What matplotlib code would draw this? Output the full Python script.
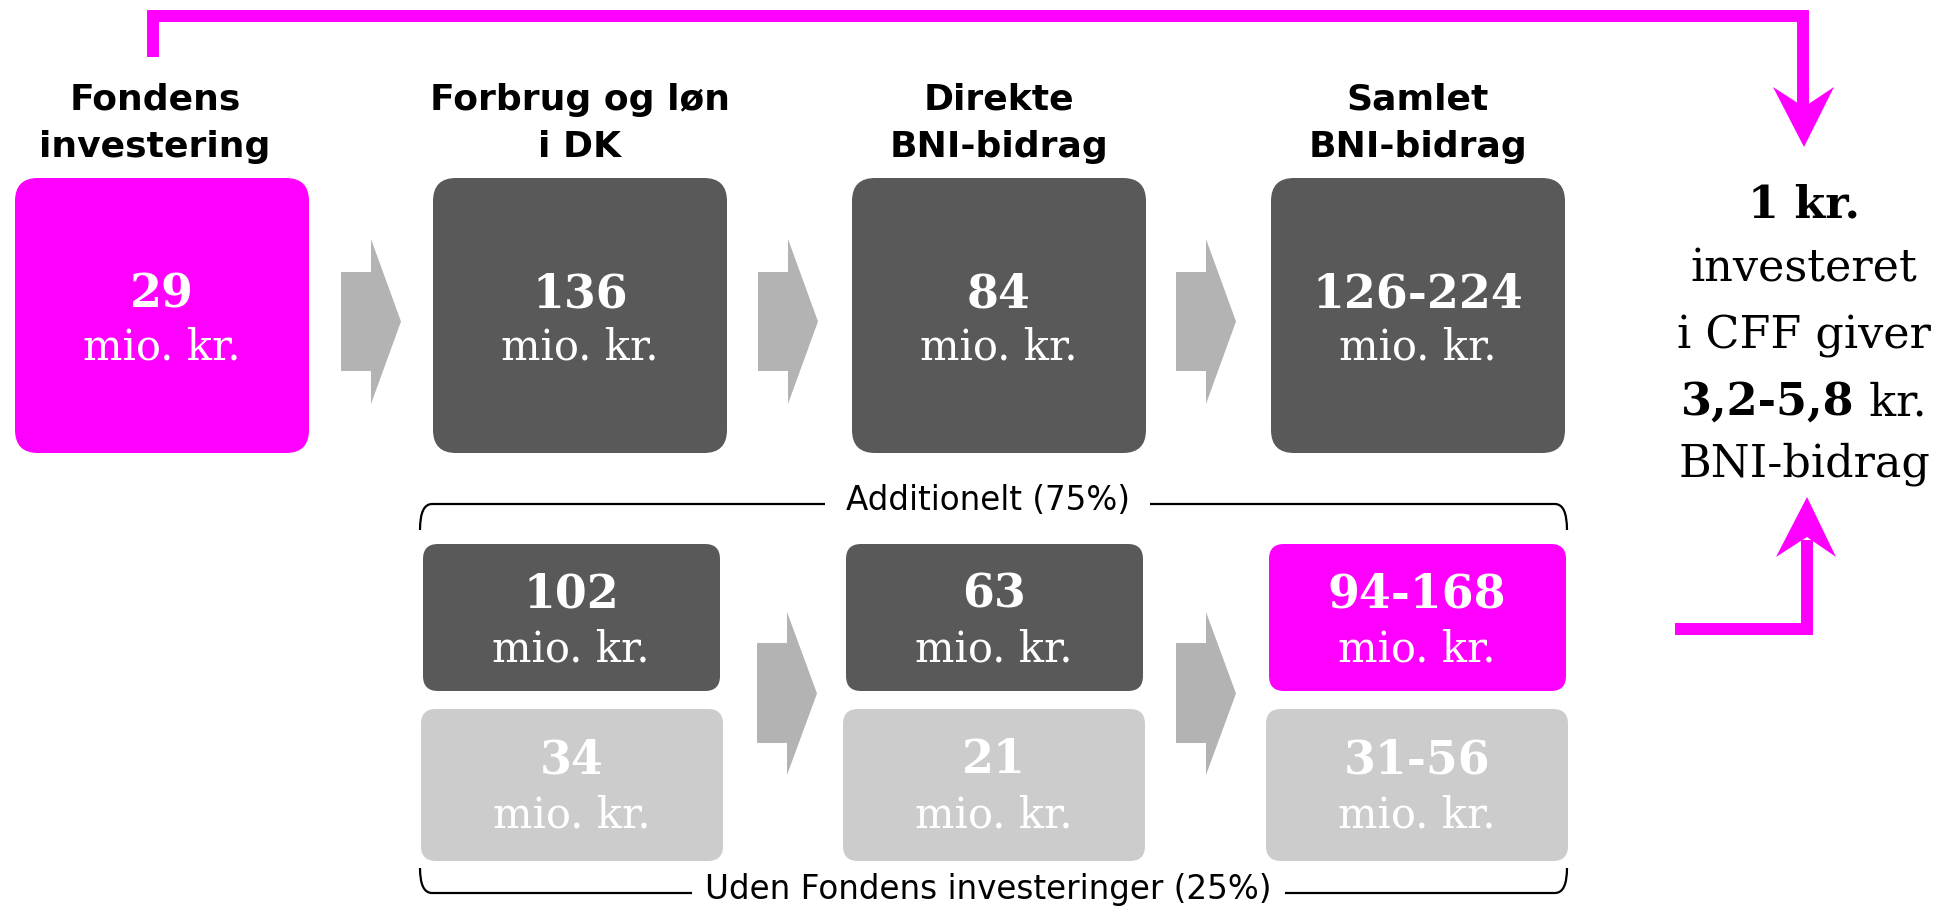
import matplotlib
matplotlib.use("Agg")
import matplotlib.pyplot as plt
from matplotlib.patches import FancyBboxPatch, Polygon, PathPatch
from matplotlib.path import Path

# Data
top_titles = [["Fondens", "investering"], ["Forbrug og løn", "i DK"],
              ["Direkte", "BNI-bidrag"], ["Samlet", "BNI-bidrag"]]
top_values = ["29", "136", "84", "126-224"]
add_values = ["102", "63", "94-168"]
uden_values = ["34", "21", "31-56"]
unit = "mio. kr."
add_label = "Additionelt (75%)"
uden_label = "Uden Fondens investeringer (25%)"
summary_lines = ["investeret", "i CFF giver"]
summary_head = "1 kr."
summary_range = "3,2-5,8"
summary_tail = "BNI-bidrag"

# Colours
PINK = "#ff00ff"
DARK = "#595959"
LIGHT = "#cccccc"
ARROW = "#b3b3b3"

SANS = "DejaVu Sans"
SERIF = "DejaVu Serif"

fig = plt.figure(figsize=(19.54, 9.13), dpi=100)
ax = fig.add_axes([0, 0, 1, 1])
ax.set_xlim(0, 1954)
ax.set_ylim(913, 0)
ax.axis("off")


def box(x, y, w, h, color, r):
    ax.add_patch(FancyBboxPatch((x, y), w, h, boxstyle="round,pad=0,rounding_size=%d" % r,
                                fc=color, ec="none"))


def box_text(xc, ytop, value, num_off, unit_off):
    ax.text(xc, ytop + num_off, value, ha="center", va="baseline", color="white",
            fontsize=33, fontweight="bold", family=SERIF)
    ax.text(xc, ytop + unit_off, unit, ha="center", va="baseline", color="white",
            fontsize=30, family=SERIF)


def block_arrow(x0, shaft_top, shaft_bot, head_top, head_bot, color=ARROW):
    # shaft 30 px, head 30 px long
    xm, xt = x0 + 30, x0 + 60
    ym = (head_top + head_bot) / 2
    pts = [(x0, shaft_top), (xm, shaft_top), (xm, head_top), (xt, ym),
           (xm, head_bot), (xm, shaft_bot), (x0, shaft_bot)]
    ax.add_patch(Polygon(pts, closed=True, fc=color, ec="none"))


def bracket(y, yend, gap_l, gap_r, x_l=420, x_r=1567):
    r = 12
    verts = [(x_l, yend), (x_l, y), (x_l + r, y), (gap_l, y),
             (gap_r, y), (x_r - r, y), (x_r, y), (x_r, yend)]
    codes = [Path.MOVETO, Path.CURVE3, Path.CURVE3, Path.LINETO,
             Path.MOVETO, Path.LINETO, Path.CURVE3, Path.CURVE3]
    ax.add_patch(PathPatch(Path(verts, codes), fc="none", ec="black", lw=1.6))


# Top row
top_x = [15, 433, 852, 1271]
top_col = [PINK, DARK, DARK, DARK]
for i, x in enumerate(top_x):
    box(x, 178, 294, 275, top_col[i], 23)
    box_text(x + 147, 178, top_values[i], 129, 182)
    xc = 155 if i == 0 else x + 147
    ax.text(xc, 110, top_titles[i][0], ha="center", va="baseline", fontsize=26,
            fontweight="bold", family=SANS)
    ax.text(xc, 157, top_titles[i][1], ha="center", va="baseline", fontsize=26,
            fontweight="bold", family=SANS)

for x0 in [341, 758, 1176]:
    block_arrow(x0, 272, 371, 239, 404)

# Bottom rows
add_x = [423, 846, 1269]
add_col = [DARK, DARK, PINK]
for i, x in enumerate(add_x):
    box(x, 544, 297, 147, add_col[i], 15)
    box_text(x + 148, 544, add_values[i], 64, 118)

uden_x = [421, 843, 1266]
for i, x in enumerate(uden_x):
    box(x, 709, 302, 152, LIGHT, 15)
    box_text(x + 151, 709, uden_values[i], 64, 118)

for x0 in [757, 1176]:
    block_arrow(x0, 643, 743, 612, 775)

# Brackets and labels
bracket(504, 530, 825, 1150)
ax.text(988, 500, add_label, ha="center", va="center", fontsize=23.5, family=SANS)
bracket(893, 868, 692, 1285)
ax.text(988, 889, uden_label, ha="center", va="center", fontsize=23.5, family=SANS)

# Magenta connectors
lw = 8.6
ax.plot([153, 153, 1803, 1803], [57, 16, 16, 110], color=PINK, lw=lw,
        solid_joinstyle="miter", solid_capstyle="butt")
ax.add_patch(Polygon([(1804, 147), (1773, 87), (1804, 107), (1834, 87)], closed=True,
                     fc=PINK, ec="none"))
ax.plot([1675, 1807, 1807], [629, 629, 540], color=PINK, lw=lw,
        solid_joinstyle="miter", solid_capstyle="butt")
ax.add_patch(Polygon([(1807, 497), (1776, 557), (1807, 537), (1836, 557)], closed=True,
                     fc=PINK, ec="none"))

# Summary text on the right
xr = 1804
ax.text(xr, 217, summary_head, ha="center", va="baseline", fontsize=32,
        fontweight="bold", family=SERIF)
for j, line in enumerate(summary_lines):
    ax.text(xr, 282 + 66 * j, line, ha="center", va="baseline", fontsize=32, family=SERIF)
t1 = ax.text(0, 415, summary_range, ha="left", va="baseline", fontsize=32,
             fontweight="bold", family=SERIF)
t2 = ax.text(0, 415, " kr.", ha="left", va="baseline", fontsize=32, family=SERIF)
fig.canvas.draw()
r = fig.canvas.get_renderer()
w1 = t1.get_window_extent(r).width
w2 = t2.get_window_extent(r).width
t1.set_x(xr - (w1 + w2) / 2)
t2.set_x(xr - (w1 + w2) / 2 + w1)
ax.text(xr, 477, summary_tail, ha="center", va="baseline", fontsize=32, family=SERIF)

fig.savefig("out.png", dpi=100)
